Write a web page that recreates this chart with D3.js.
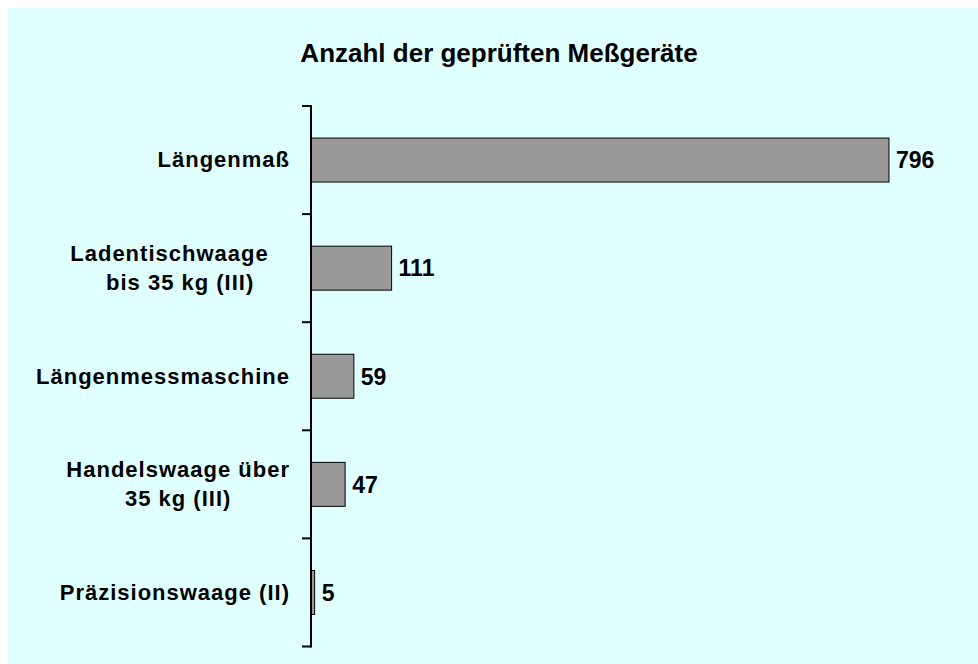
<!DOCTYPE html>
<html>
<head>
<meta charset="utf-8">
<script src="https://cdn.jsdelivr.net/npm/d3@7"></script>
<style>
  html, body { margin: 0; padding: 0; background: #fff; overflow: hidden; }
  svg { display: block; }
  text { font-family: "Liberation Sans", Arial, sans-serif; font-weight: bold; fill: #000; white-space: pre; }
</style>
</head>
<body>
<div id="chart"></div>
<script>
// data
var title = "Anzahl der geprüften Meßgeräte";
var categories = [
  "Längenmaß",
  "Ladentischwaage   \nbis 35 kg (III)",
  "Längenmessmaschine",
  "Handelswaage über\n35 kg (III)",
  "Präzisionswaage (II)"
];
var values = [796, 111, 59, 47, 5];

var W = 978, H = 664;

var svg = d3.select("#chart").append("svg")
  .attr("width", W)
  .attr("height", H);

// light cyan chart area (starts at 8,8 and runs off the page)
svg.append("rect")
  .attr("x", 8).attr("y", 8)
  .attr("width", W).attr("height", H)
  .attr("fill", "#e0ffff");

svg.append("text")
  .attr("x", 499).attr("y", 62)
  .attr("text-anchor", "middle")
  .style("font-size", "26px")
  .text(title);

var y = d3.scaleBand()
  .domain(categories)
  .range([106, 646.5])
  .padding(0);

var x = d3.scaleLinear()
  .domain([0, 900])
  .range([311, 964.5]);

var barH = y.step() * 0.407;

// bars
svg.selectAll("rect.bar")
  .data(values)
  .enter().append("rect")
  .attr("class", "bar")
  .attr("x", x(0))
  .attr("y", function(d, i) { return y(categories[i]) + (y.bandwidth() - barH) / 2; })
  .attr("width", function(d) { return x(d) - x(0); })
  .attr("height", barH)
  .attr("fill", "#999999")
  .attr("stroke", "#000")
  .attr("stroke-width", 1);

// value labels
svg.selectAll("text.val")
  .data(values)
  .enter().append("text")
  .attr("class", "val")
  .attr("x", function(d) { return x(d) + 7; })
  .attr("y", function(d, i) { return y(categories[i]) + y.bandwidth() / 2; })
  .attr("dy", "0.36em")
  .style("font-size", "23px")
  .text(function(d) { return d; });

// category axis: ticks between categories, outside
var tickPos = categories.map(function(c) { return y(c); }).concat([y.range()[1]]);
var axis = svg.append("g");
axis.append("line")
  .attr("x1", x(0)).attr("x2", x(0))
  .attr("y1", y.range()[0] - 1).attr("y2", y.range()[1] + 1)
  .attr("stroke", "#000").attr("stroke-width", 2);
axis.selectAll("line.tick")
  .data(tickPos)
  .enter().append("line")
  .attr("class", "tick")
  .attr("x1", x(0) - 9).attr("x2", x(0))
  .attr("y1", function(d) { return d; }).attr("y2", function(d) { return d; })
  .attr("stroke", "#000").attr("stroke-width", 2);

// category labels: block right-aligned at the axis, lines centred inside
var labelRight = x(0) - 21;
var lineH = 29;
categories.forEach(function(c) {
  var lines = c.split("\n");
  var cy = y(c) + y.bandwidth() / 2;
  var g = svg.append("g");
  var texts = lines.map(function(l, i) {
    return g.append("text")
      .attr("y", cy + 7.3 + (i - (lines.length - 1) / 2) * lineH)
      .attr("text-anchor", "middle")
      .style("font-size", "22px")
      .style("letter-spacing", "1px")
      .text(l);
  });
  var maxW = d3.max(texts, function(t) { return t.node().getComputedTextLength(); });
  texts.forEach(function(t) { t.attr("x", labelRight - maxW / 2); });
});
</script>
</body>
</html>
